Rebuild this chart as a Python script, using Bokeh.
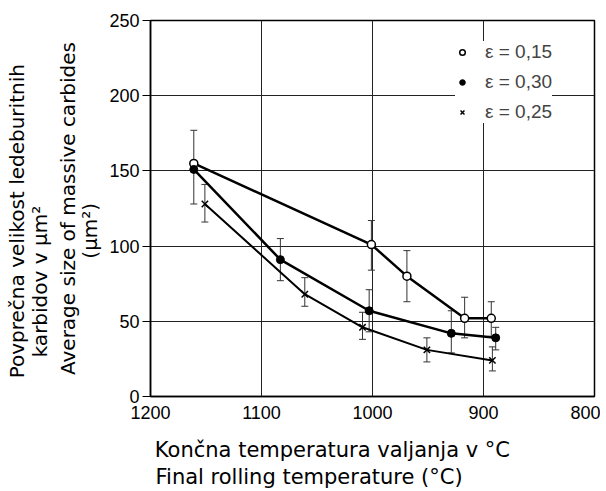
from bokeh.plotting import figure
from bokeh.models import (ColumnDataSource, Whisker, TeeHead, Legend,
                          LegendItem, Range1d, FixedTicker, LinearAxis)
from bokeh.embed import file_html
from bokeh.resources import INLINE

# ---- data ----
x_ticks = [1200, 1100, 1000, 900, 800]
y_ticks = [0, 50, 100, 150, 200, 250]

temp_015 = [1161, 1001, 969, 917, 893]
size_015 = [155, 101, 80, 52, 52]
hi_015 = [177, 117, 97, 66, 63]
lo_015 = [128, 84, 63, 39, 40]

temp_030 = [1161, 1083, 1003, 929, 889]
size_030 = [151, 91, 57, 42, 39]
err_temp_030 = [1083, 1003, 929, 889]
hi_030 = [105, 71, 57, 46]
lo_030 = [77, 43, 29, 31]

temp_025 = [1151, 1061, 1009, 951, 892]
size_025 = [128, 68, 46, 31, 24]
hi_025 = [141, 79, 56, 39, 33]
lo_025 = [116, 60, 38, 23, 17]

labels = ["ε = 0,15", "ε = 0,30", "ε = 0,25"]

FONT = "Liberation Sans"
TFONT = "DejaVu Sans"
NB = "\u00a0"

p = figure(width=600, height=491, output_backend="svg", toolbar_location=None,
           x_range=Range1d(1200, 800), y_range=Range1d(0, 250),
           min_border_left=150, min_border_right=6, min_border_top=20,
           min_border_bottom=94)

p.outline_line_color = "black"
p.outline_line_width = 1.5
p.grid.grid_line_color = "#222222"
p.grid.grid_line_width = 1
p.grid.grid_line_alpha = 1

p.xaxis.ticker = FixedTicker(ticks=x_ticks)
p.yaxis.ticker = FixedTicker(ticks=y_ticks)
for ax in (p.xaxis[0], p.yaxis[0]):
    ax.axis_line_color = "black"
    ax.axis_line_width = 1.5
    ax.major_label_text_font = FONT
    ax.major_label_text_font_size = "18px"
    ax.major_label_text_color = "black"
    ax.minor_tick_line_color = None
    ax.major_tick_line_color = "black"
    ax.axis_label_text_font = TFONT
    ax.axis_label_text_font_style = "normal"
    ax.axis_label_text_color = "black"
p.xaxis.major_tick_out = 0
p.xaxis.major_tick_in = 0
p.xaxis.major_label_standoff = 9
p.yaxis.major_tick_out = 8
p.yaxis.major_tick_in = 0
p.yaxis.major_label_standoff = 3

# English y label (two lines) on the main axis
p.yaxis.axis_label = "Average size of massive carbides\n(µm²)" + NB * 7
p.yaxis.axis_label_text_font_size = "20px"
p.yaxis.axis_label_text_line_height = 0.95
p.yaxis.axis_label_standoff = 4


def text_axis(place, text, standoff, size="20px", line_height=0.95):
    ax = LinearAxis(ticker=FixedTicker(ticks=[]), axis_line_color=None,
                    major_tick_line_color=None, minor_tick_line_color=None,
                    major_tick_in=0, major_tick_out=0, minor_tick_in=0,
                    minor_tick_out=0, major_label_standoff=0,
                    axis_label=text, axis_label_standoff=standoff,
                    axis_label_text_font=TFONT, axis_label_text_font_size=size,
                    axis_label_text_line_height=line_height,
                    axis_label_text_font_style="normal",
                    axis_label_text_color="black")
    p.add_layout(ax, place)


text_axis("left", "Povprečna velikost ledeburitnih" + NB * 4 + "\n"
          + "karbidov v µm²" + NB * 23, 1)
text_axis("below", "Končna temperatura valjanja v °C" + NB * 12, 16, "21px")
text_axis("below", "Final rolling  temperature (°C)" + NB * 18, 0, "21px")

# error bars
def whisk(xs, hi, lo):
    src = ColumnDataSource(dict(x=xs, upper=hi, lower=lo))
    w = Whisker(base="x", upper="upper", lower="lower", source=src,
                dimension="height", line_color="#333333", line_width=1,
                upper_head=TeeHead(size=7, line_color="#333333", line_width=1),
                lower_head=TeeHead(size=7, line_color="#333333", line_width=1))
    p.add_layout(w)

whisk(temp_015, hi_015, lo_015)
whisk(err_temp_030, hi_030, lo_030)
whisk(temp_025, hi_025, lo_025)

# lines
p.line(temp_015, size_015, line_color="black", line_width=2.5)
p.line(temp_030, size_030, line_color="black", line_width=2.5)
p.line(temp_025, size_025, line_color="black", line_width=2)

r1 = p.scatter(temp_015, size_015, marker="circle", size=8, fill_color="white",
               line_color="black", line_width=1.5)
r2 = p.scatter(temp_030, size_030, marker="circle", size=8, fill_color="black",
               line_color="black")
r3 = p.scatter(temp_025, size_025, marker="x", size=9, line_color="black",
               line_width=1.5)

legend = Legend(items=[LegendItem(label=labels[0], renderers=[r1]),
                       LegendItem(label=labels[1], renderers=[r2]),
                       LegendItem(label=labels[2], renderers=[r3])],
                location=(305, 273), padding=8, spacing=8, glyph_width=14,
                glyph_height=20, label_height=20, label_standoff=16,
                label_text_font=FONT, label_text_font_size="19px",
                background_fill_color="white", background_fill_alpha=1,
                border_line_color=None)
p.add_layout(legend)

open("out.html", "w").write(file_html(p, INLINE))
